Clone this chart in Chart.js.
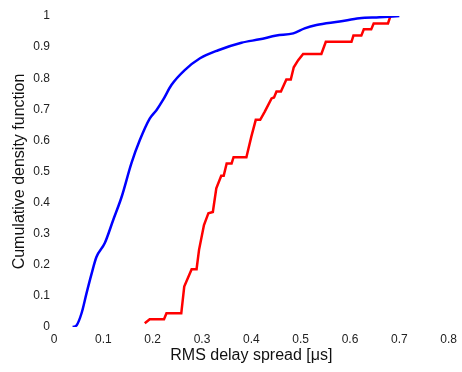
<!DOCTYPE html>
<html>
<head>
<meta charset="utf-8">
<script src="https://cdn.jsdelivr.net/npm/chart.js@4"></script>
<style>
  html, body { margin: 0; padding: 0; background: #fff; }
  #wrap { width: 462px; height: 372px; }
</style>
</head>
<body>
<div id="wrap"><canvas id="cdfChart" width="462" height="372"></canvas></div>
<script>
// blue curve (smooth CDF)
const blueX = [0.038, 0.046, 0.056, 0.066, 0.076, 0.086, 0.103, 0.12, 0.137, 0.157, 0.174, 0.194,
               0.208, 0.221, 0.238, 0.265, 0.296, 0.333, 0.38, 0.417, 0.451, 0.485, 0.508, 0.532,
               0.579, 0.619, 0.66, 0.70];
const blueY = [0.0, 0.006, 0.045, 0.109, 0.17, 0.225, 0.27, 0.344, 0.418, 0.527, 0.601, 0.67,
               0.698, 0.73, 0.778, 0.826, 0.864, 0.89, 0.914, 0.925, 0.937, 0.944, 0.96, 0.971,
               0.982, 0.993, 0.996, 1.0];

// red curve (stepped CDF)
const redX = [0.184, 0.194, 0.223, 0.228, 0.258, 0.264, 0.279, 0.289, 0.294, 0.304, 0.313, 0.322,
              0.329, 0.339, 0.344, 0.35, 0.36, 0.364, 0.39, 0.4, 0.409, 0.418, 0.427, 0.441, 0.446,
              0.451, 0.46, 0.471, 0.48, 0.486, 0.495, 0.505, 0.542, 0.551, 0.603, 0.607, 0.623,
              0.628, 0.643, 0.648, 0.677, 0.682];
const redY = [0.012, 0.025, 0.025, 0.044, 0.044, 0.13, 0.186, 0.186, 0.248, 0.328, 0.366, 0.37,
              0.446, 0.486, 0.486, 0.526, 0.526, 0.546, 0.546, 0.612, 0.666, 0.666, 0.692, 0.735, 0.738,
              0.757, 0.757, 0.796, 0.796, 0.835, 0.858, 0.878, 0.878, 0.917, 0.917, 0.937, 0.937,
              0.957, 0.957, 0.976, 0.976, 1.0];

const xTickLabels = ["0", "0.1", "0.2", "0.3", "0.4", "0.5", "0.6", "0.7", "0.8"];
const yTickLabels = ["0", "0.1", "0.2", "0.3", "0.4", "0.5", "0.6", "0.7", "0.8", "0.9", "1"];

function toPoints(xs, ys) {
    return xs.map((x, i) => ({ x: x, y: ys[i] }));
}

const fontFamily = "'Liberation Sans', Arial, sans-serif";

new Chart(document.getElementById("cdfChart").getContext("2d"), {
    type: "scatter",
    data: {
        datasets: [{
            data: toPoints(blueX, blueY),
            showLine: true,
            borderColor: "#0000ff",
            borderWidth: 2.5,
            pointRadius: 0,
            cubicInterpolationMode: "monotone"
        }, {
            data: toPoints(redX, redY),
            showLine: true,
            borderColor: "#ff0000",
            borderWidth: 2.5,
            pointRadius: 0,
            tension: 0
        }]
    },
    options: {
        responsive: false,
        animation: false,
        layout: { padding: { top: 16, right: 13, bottom: 0, left: 0 } },
        plugins: { legend: { display: false }, tooltip: { enabled: false } },
        scales: {
            x: {
                type: "linear",
                min: 0,
                max: 0.8,
                grid: { display: false, drawTicks: false },
                border: { display: false },
                ticks: {
                    stepSize: 0.1,
                    padding: 5,
                    color: "#222",
                    font: { family: fontFamily, size: 12 },
                    maxRotation: 0,
                    callback: (v, i) => xTickLabels[i]
                },
                title: {
                    display: true,
                    text: "RMS delay spread [\u03bcs]",
                    color: "#111",
                    font: { family: fontFamily, size: 16 },
                    padding: { top: 0, bottom: 7 }
                },
                afterFit: s => { s.height = 45; }
            },
            y: {
                type: "linear",
                min: 0,
                max: 1,
                grid: { display: false, drawTicks: false },
                border: { display: false },
                ticks: {
                    stepSize: 0.1,
                    padding: 4,
                    color: "#222",
                    font: { family: fontFamily, size: 12 },
                    callback: (v, i) => yTickLabels[i]
                },
                title: {
                    display: true,
                    text: "Cumulative density function",
                    color: "#111",
                    font: { family: fontFamily, size: 16 },
                    padding: { top: 10, bottom: 0 }
                },
                afterFit: s => { s.width = 54; }
            }
        }
    }
});
</script>
</body>
</html>
